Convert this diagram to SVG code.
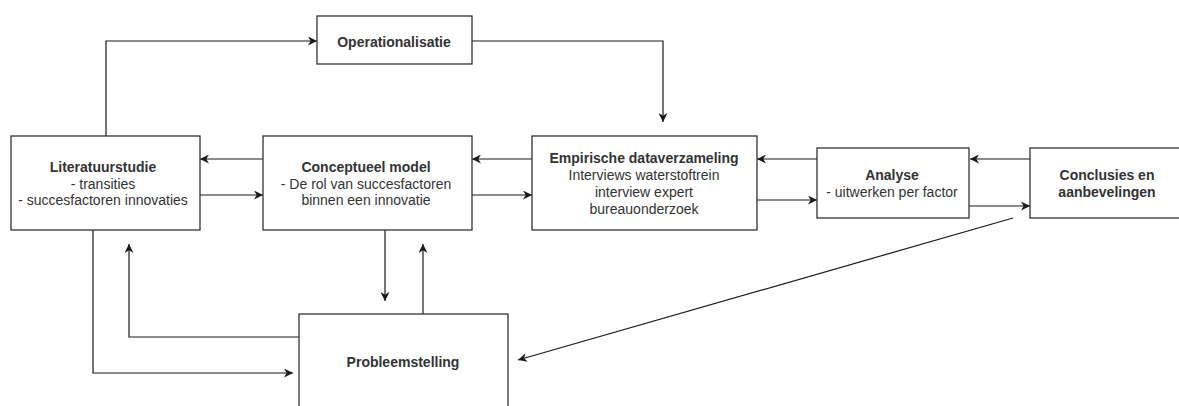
<svg xmlns="http://www.w3.org/2000/svg" width="1179" height="406" viewBox="0 0 1179 406">
  <style>
    .box { fill: #ffffff; stroke: #333333; stroke-width: 1.3; }
    .lbl { font-family: "Liberation Sans", Arial, sans-serif; font-size: 14px; fill: #333333; text-anchor: middle; }
    .b { font-weight: bold; }
    .edge { fill: none; stroke: #1a1a1a; stroke-width: 1.2; marker-end: url(#arrow); }
  </style>
  <defs>
    <marker id="arrow" markerUnits="userSpaceOnUse" viewBox="0 0 10 10" markerWidth="10" markerHeight="9" refX="10" refY="5" orient="auto">
      <path d="M0,0 L10,5 L0,10 L3,5 Z" fill="#1a1a1a"/>
    </marker>
  </defs>

  <rect width="1179" height="406" fill="#ffffff"/>

  <g id="connectors">
    <path class="edge" d="M106,136 V41 H317"/>
    <path class="edge" d="M472,41 H663 V122"/>
    <path class="edge" d="M263,159 H200"/>
    <path class="edge" d="M200,195 H263"/>
    <path class="edge" d="M532,159 H472"/>
    <path class="edge" d="M472,195 H532"/>
    <path class="edge" d="M817,159 H757"/>
    <path class="edge" d="M757,200 H817"/>
    <path class="edge" d="M1030,159 H970"/>
    <path class="edge" d="M969,206 H1030"/>
    <path class="edge" d="M385,230 V301"/>
    <path class="edge" d="M423,314 V244"/>
    <path class="edge" d="M93,230 V373 H293"/>
    <path class="edge" d="M299,337 H129 V244"/>
    <path class="edge" d="M1013,218 L518,360"/>
  </g>

  <g id="operationalisatie">
    <rect class="box" x="317" y="16" width="155" height="48"/>
    <text class="lbl b" x="394" y="47">Operationalisatie</text>
  </g>

  <g id="literatuurstudie">
    <rect class="box" x="11" y="136" width="189" height="94"/>
    <text class="lbl" x="103" y="172"><tspan class="b">Literatuurstudie</tspan><tspan x="103" dy="16.5">- transities</tspan><tspan x="103" dy="16.5">- succesfactoren innovaties</tspan></text>
  </g>

  <g id="conceptueel-model">
    <rect class="box" x="263" y="136" width="209" height="94"/>
    <text class="lbl" x="366" y="172"><tspan class="b">Conceptueel model</tspan><tspan x="366" dy="16.5">- De rol van succesfactoren</tspan><tspan x="366" dy="16.5">binnen een innovatie</tspan></text>
  </g>

  <g id="empirische-dataverzameling">
    <rect class="box" x="532" y="136" width="225" height="94"/>
    <text class="lbl" x="644" y="163"><tspan class="b">Empirische dataverzameling</tspan><tspan x="644" dy="17">Interviews waterstoftrein</tspan><tspan x="644" dy="17">interview expert</tspan><tspan x="644" dy="17">bureauonderzoek</tspan></text>
  </g>

  <g id="analyse">
    <rect class="box" x="817" y="148" width="152" height="70"/>
    <text class="lbl" x="892" y="180"><tspan class="b">Analyse</tspan><tspan x="892" dy="17">- uitwerken per factor</tspan></text>
  </g>

  <g id="conclusies">
    <rect class="box" x="1030" y="148" width="155" height="70"/>
    <text class="lbl b" x="1107" y="180"><tspan>Conclusies en</tspan><tspan x="1107" dy="17">aanbevelingen</tspan></text>
  </g>

  <g id="probleemstelling">
    <rect class="box" x="299" y="314" width="209" height="110"/>
    <text class="lbl b" x="403" y="367">Probleemstelling</text>
  </g>
</svg>
